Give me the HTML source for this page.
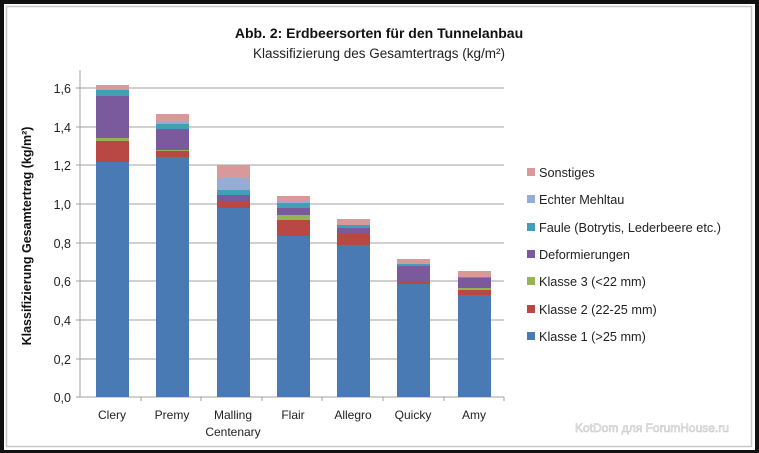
<!DOCTYPE html>
<html><head><meta charset="utf-8"><style>
html,body{margin:0;padding:0;background:#000;}
svg{display:block;font-family:"Liberation Sans",sans-serif;}
</style></head><body>
<svg width="759" height="453" xmlns="http://www.w3.org/2000/svg">
<rect x="0" y="0" width="759" height="453" fill="#111"/>
<rect x="4" y="4" width="751" height="446" fill="#fff"/>
<rect x="6.5" y="6.5" width="745" height="440" fill="#fff" stroke="#c8c8c8" stroke-width="1.5"/>
<text x="379" y="38" font-size="14" font-weight="bold" text-anchor="middle" fill="#111">Abb. 2: Erdbeersorten für den Tunnelanbau</text>
<text x="379" y="58" font-size="13.5" text-anchor="middle" fill="#222">Klassifizierung des Gesamtertrags (kg/m²)</text>
<g stroke="#a0a0a0" stroke-width="1">
<line x1="80" y1="88" x2="504" y2="88"/><line x1="80" y1="127" x2="504" y2="127"/><line x1="80" y1="165" x2="504" y2="165"/><line x1="80" y1="204" x2="504" y2="204"/><line x1="80" y1="243" x2="504" y2="243"/><line x1="80" y1="281" x2="504" y2="281"/><line x1="80" y1="320" x2="504" y2="320"/><line x1="80" y1="359" x2="504" y2="359"/>
<line x1="80" y1="70" x2="80" y2="397"/><line x1="80" y1="397" x2="504" y2="397"/>
<line x1="76" y1="88" x2="80" y2="88"/><line x1="76" y1="127" x2="80" y2="127"/><line x1="76" y1="165" x2="80" y2="165"/><line x1="76" y1="204" x2="80" y2="204"/><line x1="76" y1="243" x2="80" y2="243"/><line x1="76" y1="281" x2="80" y2="281"/><line x1="76" y1="320" x2="80" y2="320"/><line x1="76" y1="359" x2="80" y2="359"/><line x1="76" y1="397" x2="80" y2="397"/>
<line x1="141" y1="397" x2="141" y2="401"/><line x1="201" y1="397" x2="201" y2="401"/><line x1="262" y1="397" x2="262" y2="401"/><line x1="322" y1="397" x2="322" y2="401"/><line x1="383" y1="397" x2="383" y2="401"/><line x1="444" y1="397" x2="444" y2="401"/><line x1="504" y1="397" x2="504" y2="401"/>
</g>
<g font-size="12.5" text-anchor="end" fill="#222">
<text x="71" y="93">1,6</text><text x="71" y="132">1,4</text><text x="71" y="170">1,2</text><text x="71" y="209">1,0</text><text x="71" y="248">0,8</text><text x="71" y="286">0,6</text><text x="71" y="325">0,4</text><text x="71" y="364">0,2</text><text x="71" y="402">0,0</text>
</g>
<text transform="translate(31,236) rotate(-90)" font-size="12.5" font-weight="bold" text-anchor="middle" fill="#111">Klassifizierung Gesamtertrag (kg/m²)</text>
<g font-size="12" text-anchor="middle" fill="#222">
<text x="112" y="419">Clery</text><text x="172" y="419">Premy</text><text x="233" y="419">Malling</text><text x="233" y="436">Centenary</text><text x="293" y="419">Flair</text><text x="353" y="419">Allegro</text><text x="413" y="419">Quicky</text><text x="474" y="419">Amy</text>
</g>
<g>
<rect x="96" y="162" width="33" height="235" fill="#4a7ab4"/>
<rect x="96" y="141" width="33" height="21" fill="#b94743"/>
<rect x="96" y="138" width="33" height="3" fill="#97b454"/>
<rect x="96" y="96" width="33" height="42" fill="#7a5a9c"/>
<rect x="96" y="90" width="33" height="6" fill="#3fa0b8"/>
<rect x="96" y="85" width="33" height="5" fill="#d9999a"/>
<rect x="156" y="157" width="33" height="240" fill="#4a7ab4"/>
<rect x="156" y="151" width="33" height="6" fill="#b94743"/>
<rect x="156" y="150" width="33" height="1" fill="#97b454"/>
<rect x="156" y="129" width="33" height="21" fill="#7a5a9c"/>
<rect x="156" y="124" width="33" height="5" fill="#3fa0b8"/>
<rect x="156" y="122" width="33" height="2" fill="#94acd6"/>
<rect x="156" y="114" width="33" height="8" fill="#d9999a"/>
<rect x="217" y="208" width="33" height="189" fill="#4a7ab4"/>
<rect x="217" y="201" width="33" height="7" fill="#b94743"/>
<rect x="217" y="195" width="33" height="6" fill="#7a5a9c"/>
<rect x="217" y="190" width="33" height="5" fill="#3fa0b8"/>
<rect x="217" y="178" width="33" height="12" fill="#94acd6"/>
<rect x="217" y="165" width="33" height="13" fill="#d9999a"/>
<rect x="277" y="236" width="33" height="161" fill="#4a7ab4"/>
<rect x="277" y="220" width="33" height="16" fill="#b94743"/>
<rect x="277" y="215" width="33" height="5" fill="#97b454"/>
<rect x="277" y="208" width="33" height="7" fill="#7a5a9c"/>
<rect x="277" y="203" width="33" height="5" fill="#3fa0b8"/>
<rect x="277" y="201" width="33" height="2" fill="#94acd6"/>
<rect x="277" y="196" width="33" height="5" fill="#d9999a"/>
<rect x="337" y="245" width="33" height="152" fill="#4a7ab4"/>
<rect x="337" y="234" width="33" height="11" fill="#b94743"/>
<rect x="337" y="228" width="33" height="6" fill="#7a5a9c"/>
<rect x="337" y="225" width="33" height="3" fill="#3fa0b8"/>
<rect x="337" y="219" width="33" height="6" fill="#d9999a"/>
<rect x="397" y="284" width="33" height="113" fill="#4a7ab4"/>
<rect x="397" y="282" width="33" height="2" fill="#b94743"/>
<rect x="397" y="266" width="33" height="16" fill="#7a5a9c"/>
<rect x="397" y="264" width="33" height="2" fill="#3fa0b8"/>
<rect x="397" y="259" width="33" height="5" fill="#d9999a"/>
<rect x="458" y="295" width="33" height="102" fill="#4a7ab4"/>
<rect x="458" y="290" width="33" height="5" fill="#b94743"/>
<rect x="458" y="288" width="33" height="2" fill="#97b454"/>
<rect x="458" y="278" width="33" height="10" fill="#7a5a9c"/>
<rect x="458" y="277" width="33" height="1" fill="#3fa0b8"/>
<rect x="458" y="271" width="33" height="6" fill="#d9999a"/>
</g>
<g font-size="12.7" fill="#222">
<rect x="527" y="168" width="8" height="8" fill="#d9999a"/><text x="539" y="177">Sonstiges</text>
<rect x="527" y="195" width="8" height="8" fill="#94acd6"/><text x="539" y="204">Echter Mehltau</text>
<rect x="527" y="223" width="8" height="8" fill="#3fa0b8"/><text x="539" y="232">Faule (Botrytis, Lederbeere etc.)</text>
<rect x="527" y="250" width="8" height="8" fill="#7a5a9c"/><text x="539" y="259">Deformierungen</text>
<rect x="527" y="277" width="8" height="8" fill="#97b454"/><text x="539" y="286">Klasse 3 (&lt;22 mm)</text>
<rect x="527" y="305" width="8" height="8" fill="#b94743"/><text x="539" y="314">Klasse 2 (22-25 mm)</text>
<rect x="527" y="332" width="8" height="8" fill="#4a7ab4"/><text x="539" y="341">Klasse 1 (&gt;25 mm)</text>
</g>
<text x="652" y="432" font-size="12" text-anchor="middle" fill="#f2f2f2" stroke="#c8c8c8" stroke-width="0.6">KotDom для ForumHouse.ru</text>
</svg>
</body></html>
